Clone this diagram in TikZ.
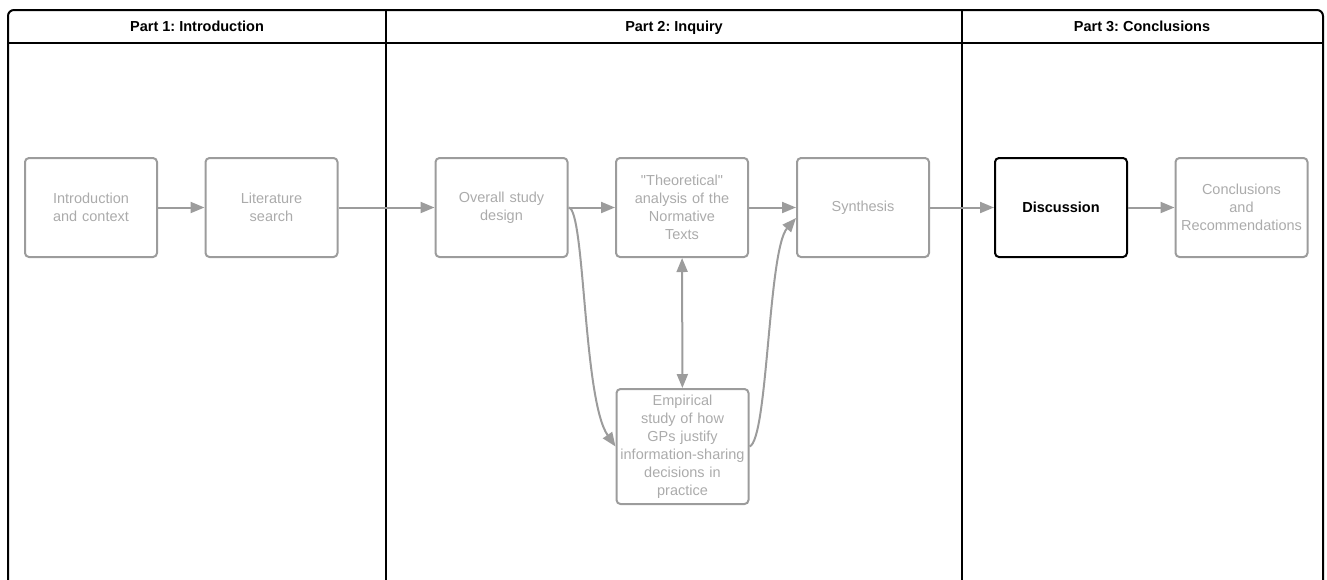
\documentclass[tikz,border=0pt]{standalone}
\usepackage{fontspec}
\setmainfont{Liberation Sans}[Ligatures=TeXOff]
\usetikzlibrary{arrows.meta}
\definecolor{boxgray}{HTML}{9C9C9C}
\definecolor{txtgray}{HTML}{ABABAB}
\frenchspacing
\begin{document}
\begin{tikzpicture}[x=1pt,y=-1pt,
  stepbox/.style={draw=boxgray, line width=2pt, rounded corners=4pt,
    minimum width=132pt, minimum height=99pt, text width=128pt, align=center,
    inner sep=0pt, font=\fontsize{14.5}{18}\selectfont, text=txtgray},
  keybox/.style={stepbox, draw=black, text=black, font=\bfseries\fontsize{14.5}{18}\selectfont},
  arr/.style={draw=boxgray, line width=2pt, -{Triangle[length=14pt,width=11pt]}},
  darr/.style={draw=boxgray, line width=2pt, {Triangle[length=14pt,width=11pt]}-{Triangle[length=14pt,width=11pt]}},
  frame/.style={draw=black, line width=2pt},
  head/.style={font=\bfseries\fontsize{14.5}{17}\selectfont, text=black, inner sep=0pt, anchor=base}]
\useasboundingbox (0,0) rectangle (1327,579);
\clip (0,0) rectangle (1327,579);
% frame
\draw[frame, rounded corners=6pt] (8,620) -- (8,10) -- (1323,10) -- (1323,620);
\draw[frame] (8,43) -- (1323,43);
\draw[frame] (386,10) -- (386,620);
\draw[frame] (962,10) -- (962,620);
\node[head] (h1) at (197,31) {Part 1: Introduction};
\node[head] (h2) at (674,31) {Part 2: Inquiry};
\node[head] (h3) at (1142,31) {Part 3: Conclusions};
% boxes
\node[stepbox] (intro) at (91,207.5) {Introduction\\and context};
\node[stepbox] (lit) at (271.5,207.5) {Literature\\search};
\node[stepbox] (ov) at (501.5,207.5) {Overall study\\design};
\node[stepbox] (theo) at (682,207.5) {"Theoretical"\\analysis of the\\Normative\\Texts};
\node[stepbox] (syn) at (863,207.5) {Synthesis\\[2pt]};
\node[keybox] (disc) at (1061,207.5) {Discussion};
\node[stepbox] (concl) at (1241.5,207.5) {Conclusions\\and\\Recommendations};
\node[stepbox, minimum height=115pt] (emp) at (682.5,446.5) {Empirical\\study of how\\GPs justify\\information-sharing\\decisions in\\practice\\[3pt]};
% connectors
\draw[arr] (intro) -- (lit);
\draw[arr] (lit) -- (ov);
\draw[arr] (ov) -- (theo);
\draw[arr] (theo) -- (syn);
\draw[arr] (syn) -- (disc);
\draw[arr] (disc) -- (concl);
\draw[darr] (theo) -- (emp);
\draw[arr] (ov.east) .. controls (585,208) and (583,400) .. (emp.west);
\draw[arr] (emp.east) .. controls (768,440) and (768,250) .. ([yshift=-10.5pt]syn.west);
\end{tikzpicture}
\end{document}
